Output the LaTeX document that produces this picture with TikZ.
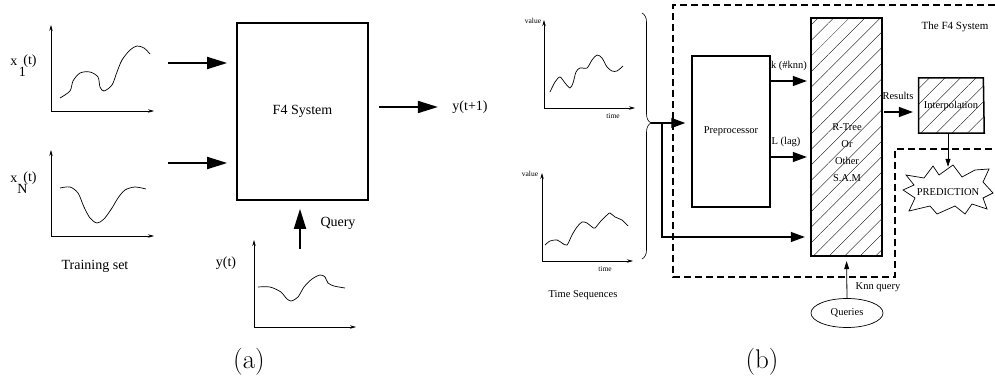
\documentclass[tikz,border=0pt]{standalone}
\usepackage{fontspec}
\newfontfamily\tms{Liberation Serif}
\usetikzlibrary{arrows.meta,shapes.geometric,patterns.meta,decorations.pathreplacing,positioning}

\begin{document}
\begin{tikzpicture}[x=1pt,y=-1pt,
  bigarrow/.style={line width=1.8pt,-{Triangle[length=20pt,width=12pt]}},
  medarrow/.style={line width=1.2pt,-{Triangle[length=14pt,width=10pt]}},
  thinarrow/.style={line width=0.8pt,-{Triangle[length=8pt,width=5pt]}},
  axis/.style={line width=0.7pt,-{Stealth[length=6pt,width=3.5pt]}},
  curve/.style={line width=0.7pt},
  hatched/.style={pattern={Lines[angle=45,distance=11pt,line width=0.35pt]}},
  txta/.style={font=\tms\fontsize{14}{16}\selectfont},
  txtb/.style={font=\tms\fontsize{10.5}{12}\selectfont},
  smalltxt/.style={font=\tms\fontsize{7.5}{9}\selectfont}]
\useasboundingbox (0,0) rectangle (995,385);

% (a) training set and the system
\draw[axis] (51,111) -- (51,25);
\draw[axis] (51,111) -- (154,111);
\draw[curve] plot[smooth] coordinates {(60,98) (70,91) (73,81) (80,73) (90,72) (98,77) (100,87) (104,91) (112,85) (117,72) (122,60) (130,50) (137,46) (144,48) (150,54)};
\node[txta] (xone) at (23.5,66) {x\rlap{\hspace{1.5pt}\raisebox{-11pt}{1}}\hspace{6pt}\raisebox{1pt}{(t)}};

\draw[axis] (51,236) -- (51,150);
\draw[axis] (51,236) -- (154,236);
\draw[curve] plot[smooth] coordinates {(60,188) (70,187) (78,193) (84,207) (90,218) (97,223) (104,219) (112,208) (118,198) (125,190) (135,187) (146,189)};
\node[txta] (xn) at (23.5,183) {x\rlap{\raisebox{-11pt}{N}}\hspace{6pt}\raisebox{1pt}{(t)}};
\node[txta] (train) at (95,266) {Training set};

\node[draw, line width=1.7pt, minimum width=131pt, minimum height=177pt, txta] (f4) at (302.5,111.5) {F4 System};
\coordinate (ina) at (168,63);
\coordinate (inb) at (168,163);
\draw[bigarrow, shorten >=9pt] (ina) -- (ina -| f4.west);
\draw[bigarrow, shorten >=9pt] (inb) -- (inb -| f4.west);

\node[txta] (yout) at (470,107) {y(t+1)};
\draw[bigarrow, shorten <=10pt, shorten >=11pt] (yout -| f4.east) -- (yout.west);

\draw[axis] (254,327) -- (254,240);
\draw[axis] (254,327) -- (356,327);
\draw[curve] plot[smooth] coordinates {(258,287) (270,287) (281,292) (286,298) (291,301) (298,297) (304,287) (312,279) (320,275) (325,277) (328,283) (334,286) (345,288)};
\node[txta] (yt) at (226,263) {y(t)};
\node[txta] (query) at (338,223) {Query};
\coordinate (qin) at (300,249);
\draw[bigarrow, shorten >=8pt] (qin) -- (qin |- f4.south);

\node[font=\fontsize{27}{30}\selectfont] (capa) at (249,362) {(a)};

% (b) time sequences
\draw[axis] (544,108) -- (544,20);
\draw[axis] (544,108) -- (635,108);
\draw[curve] plot[smooth] coordinates {(550,92) (555,82) (560,77) (565,83) (570,88) (573,83) (576,72) (580,68) (587,68) (592,60) (597,55) (602,58) (607,67) (612,71) (617,71) (623,66)};
\node[smalltxt] (vala) at (533,21) {value};
\node[smalltxt] (timea) at (613,116) {time};

\draw[axis] (542,261) -- (542,173);
\draw[axis] (542,261) -- (633,261);
\draw[curve] plot[smooth] coordinates {(545,245) (550,241) (557,240) (562,243) (567,245) (572,235) (577,227) (582,222) (587,223) (592,227) (595,228) (600,222) (607,215) (610,213) (615,217) (622,220) (628,226)};
\node[smalltxt] (valb) at (530,174) {value};
\node[smalltxt] (timeb) at (605,269) {time};
\node[txtb] (tseq) at (583,295) {Time Sequences};

\draw[decorate, decoration={brace, amplitude=9pt, aspect=0.447}, line width=0.6pt] (642,13) -- (642,259);

% (b) the F4 system
\draw[line width=1.8pt, dash pattern=on 7pt off 4pt] (995,5) -- (673,5) -- (673,277) -- (895,277) -- (895,149) -- (995,149);
\node[font=\tms\fontsize{11}{13}\selectfont] (sysname) at (955,27) {The F4 System};

\node[draw, line width=1.5pt, minimum width=78pt, minimum height=151pt, txtb] (pre) at (731,131.5) {Preprocessor};
\node[draw, line width=1.5pt, hatched, minimum width=71pt, minimum height=238pt] (rtree) at (846.5,137) {};
\node[font=\tms\fontsize{10.5}{17}\selectfont, align=center] (samtxt) at (847,153) {R-Tree\\Or\\Other\\S.A.M};

\coordinate (tip) at (651,123);
\coordinate (split) at (662,123);
\coordinate (byp) at (662,237);
\draw[medarrow, shorten >=6pt] (tip) -- (tip -| pre.west);
\draw[medarrow, shorten >=6pt] (split) -- (byp) -- (byp -| rtree.west);

\coordinate (kin) at (771,81);
\coordinate (lin) at (771,157);
\node[txtb] (klab) at (789,66) {k (\#knn)};
\node[txtb] (llab) at (786,142) {L (lag)};
\draw[medarrow, shorten >=4pt] (kin) -- (kin -| rtree.west);
\draw[medarrow, shorten >=4pt] (lin) -- (lin -| rtree.west);

\node[trapezium, trapezium left angle=90, trapezium right angle=87, trapezium stretches=true, draw, line width=1.5pt, hatched, minimum width=66pt, minimum height=55pt, txtb] (interp) at (951,105.5) {Interpolation};
\coordinate (res) at (884,112);
\node[txtb] (reslab) at (898,96) {Results};
\draw[medarrow, shorten >=5pt] (res) -- (res -| interp.west);

% prediction burst
\draw[line width=0.7pt] (906,175) -- (924,178) -- (933,166) -- (939,175) -- (953,165) -- (962,177) -- (975,170) -- (989,169) -- (983,182) -- (993,193) -- (983,198) -- (987,209) -- (972,204) -- (965,214) -- (955,206) -- (937,214) -- (930,206) -- (909,211) -- (915,198) -- (903,190) -- (914,185) -- cycle;
\node[minimum width=78pt, minimum height=50pt, txtb] (pred) at (948,192) {PREDICTION};
\draw[thinarrow] (pred.north |- interp.south) -- (pred.north);

\node[ellipse, draw, line width=0.7pt, minimum width=72pt, minimum height=29pt, txtb] (queries) at (847,313) {Queries};
\node[txtb] (knn) at (878,287) {Knn query};
\draw[thinarrow, shorten >=5pt] (queries.north) -- (rtree.south);

\node[font=\fontsize{27}{30}\selectfont] (capb) at (762,362) {(b)};
\end{tikzpicture}
\end{document}
